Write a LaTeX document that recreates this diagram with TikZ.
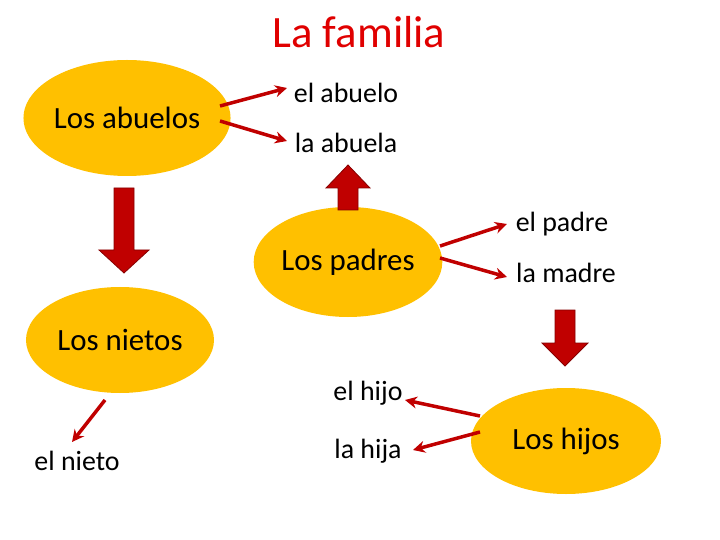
\documentclass[tikz,border=0pt]{standalone}
\usepackage{fontspec}
\setmainfont{Carlito}
\usetikzlibrary{arrows.meta,shapes.geometric}
\definecolor{yel}{HTML}{FFC000}
\definecolor{rd}{HTML}{C00000}
\definecolor{ttl}{HTML}{E00000}
\begin{document}
\begin{tikzpicture}[x=1bp,y=-1bp,
  ell/.style={ellipse,fill=yel,draw=none,inner sep=0pt,font=\fontsize{31}{36}\selectfont},
  lab/.style={font=\fontsize{28}{32}\selectfont},
  con/.style={draw=rd,line width=3.5pt,-{Stealth[length=12pt,width=12pt]}},
  blk/.style={fill=rd,draw=rd!70!black,line width=0.8pt}]
\useasboundingbox (0,0) rectangle (720,540);
\node[font=\fontsize{45}{50}\selectfont,text=ttl] (t) at (359,32) {La familia};
\node[ell,minimum width=188bp,minimum height=116bp] (ab) at (127,118) {Los abuelos};
\node[ell,minimum width=182bp,minimum height=110bp] (pa) at (348,262) {Los padres};
\node[ell,minimum width=188bp,minimum height=106bp] (ni) at (120,340) {Los nietos};
\node[ell,minimum width=190bp,minimum height=106bp] (hi) at (566,441) {Los hijos};
\node[lab] (eab) at (346,93) {el abuelo};
\node[lab] (lab) at (346,143) {la abuela};
\node[lab] (epa) at (562,224) {el padre};
\node[lab] (lma) at (566,273) {la madre};
\node[lab] (ehi) at (368,393) {el hijo};
\node[lab] (lhi) at (368,451) {la hija};
\node[lab] (eni) at (77,461) {el nieto};
\coordinate (a1) at (220,106); \coordinate (a2) at (220,121);
\coordinate (a3) at (287,88); \coordinate (a4) at (287,141);
\coordinate (p1) at (440,246); \coordinate (p2) at (440,258);
\coordinate (p3) at (507,224); \coordinate (p4) at (507,277);
\coordinate (h1) at (480,416); \coordinate (h2) at (480,432);
\coordinate (h3) at (405,400); \coordinate (h4) at (413,450);
\coordinate (n1) at (105,400); \coordinate (n2) at (72,442);
\draw[con] (a1) -- (a3);
\draw[con] (a2) -- (a4);
\draw[con] (p1) -- (p3);
\draw[con] (p2) -- (p4);
\draw[con] (h1) -- (h3);
\draw[con] (h2) -- (h4);
\draw[con] (n1) -- (n2);
\draw[blk] (114,188) -- (134,188) -- (134,250) -- (149,250) -- (124,273) -- (99,250) -- (114,250) -- cycle;
\draw[blk] (338,210) -- (358,210) -- (358,188) -- (370,188) -- (348,165) -- (326,188) -- (338,188) -- cycle;
\draw[blk] (555,310) -- (575,310) -- (575,343) -- (588,343) -- (565,366) -- (542,343) -- (555,343) -- cycle;
\end{tikzpicture}
\end{document}
